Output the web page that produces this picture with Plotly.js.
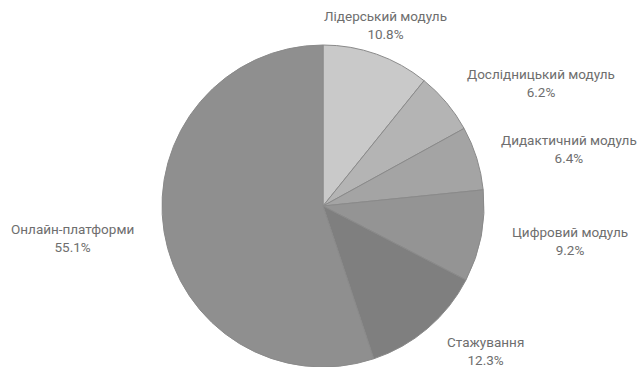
<!DOCTYPE html>
<html>
<head>
<meta charset="utf-8">
<script src="https://cdn.plot.ly/plotly-3.0.1.min.js"></script>
<style>
  html, body { margin: 0; padding: 0; background: #fff; }
  #chart { width: 639px; height: 367px; }
</style>
</head>
<body>
<div id="chart"></div>
<script>
// Share of professional development formats, clockwise from 12 o'clock
const categories = [
  'Лідерський модуль',
  'Дослідницький модуль',
  'Дидактичний модуль',
  'Цифровий модуль',
  'Стажування',
  'Онлайн-платформи'
];
const shares = [10.8, 6.2, 6.4, 9.2, 12.3, 55.1];
const sliceColors = ['#c9c9c9', '#b4b4b4', '#a4a4a4', '#949494', '#7f7f7f', '#8f8f8f'];

// Label anchor points (pixel coordinates) for each slice label
const labelX = [386, 541, 569, 570, 485, 72];
const labelY = [25, 83, 149, 241, 351, 238];

const W = 639, H = 367;
const cx = 323, cy = 206, r = 161;

const annotations = categories.map((c, i) => ({
  text: c + '<br>' + shares[i].toFixed(1) + '%',
  x: labelX[i] / W,
  y: 1 - labelY[i] / H,
  xref: 'paper', yref: 'paper',
  xanchor: 'center', yanchor: 'middle',
  showarrow: false,
  align: 'center',
  font: { family: 'Roboto, Arial, sans-serif', size: 13.5, color: '#6e6e6e' }
}));

Plotly.newPlot('chart', [{
  type: 'pie',
  labels: categories,
  values: shares,
  sort: false,
  direction: 'clockwise',
  rotation: 0,
  textinfo: 'none',
  hoverinfo: 'label+percent',
  marker: { colors: sliceColors, line: { color: '#8a8a8a', width: 1 } },
  domain: { x: [(cx - r) / W, (cx + r) / W], y: [(H - cy - r) / H, (H - cy + r) / H] }
}], {
  width: W, height: H,
  margin: { l: 0, r: 0, t: 0, b: 0 },
  showlegend: false,
  paper_bgcolor: '#ffffff',
  annotations: annotations
}, { displayModeBar: false, staticPlot: true });
</script>
</body>
</html>
